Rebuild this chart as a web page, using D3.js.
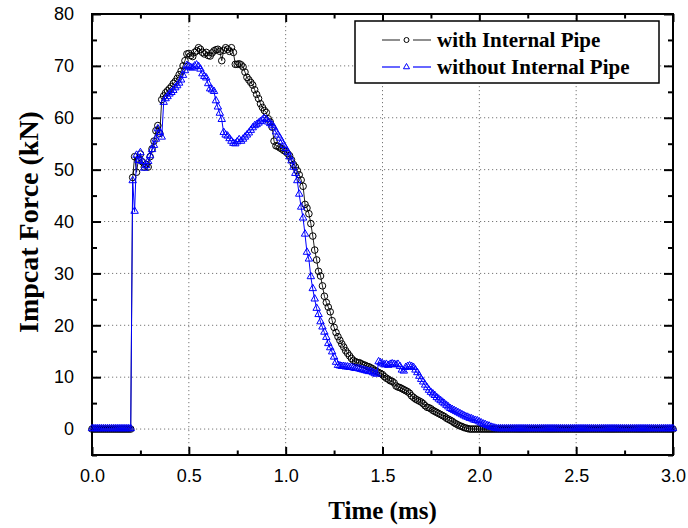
<!DOCTYPE html>
<html>
<head>
<meta charset="utf-8">
<script src="https://cdn.jsdelivr.net/npm/d3@7"></script>
<style>
  body { margin: 0; background: #fff; }
</style>
</head>
<body>
<div class="chart"></div>
<script>
// sample step of the recordings (ms)
const timeStep = 0.01;

// with internal pipe, kN, one value per 0.01 ms from 0.00 to 3.00
const withPipe = [
  0, 0, 0, 0, 0, 0, 0, 0, 0, 0,                               // 0.00
  0, 0, 0, 0, 0, 0, 0, 0, 0, 0,                               // 0.10
  0, 48.5, 52.5, 49.5, 52.0, 53.0, 51.5, 50.5, 51.0, 50.5,    // 0.20
  52.5, 54.0, 55.5, 57.5, 58.5, 57.0, 63.5, 64.2, 64.8, 65.2, // 0.30
  65.6, 66.0, 66.6, 67.0, 67.6, 68.3, 69.0, 70.0, 71.0, 72.3, // 0.40
  72.4, 72.0, 71.8, 72.6, 72.9, 73.5, 73.2, 72.6, 72.3, 72.6, // 0.50
  72.0, 71.9, 72.5, 72.9, 73.1, 73.2, 72.8, 71.0, 73.0, 73.5, // 0.60
  73.2, 72.8, 73.5, 72.6, 70.3, 70.3, 70.4, 70.2, 69.8, 68.8, // 0.70
  67.8, 67.3, 66.8, 66.3, 65.4, 64.5, 63.7, 62.7, 62.0, 61.4, // 0.80
  61.0, 59.8, 59.2, 58.2, 55.5, 54.6, 54.5, 54.2, 54.0, 53.7, // 0.90
  53.5, 53.1, 52.7, 51.9, 51.0, 50.5, 49.8, 49.0, 48.0, 46.8, // 1.00
  43.3, 42.6, 41.5, 39.6, 37.2, 34.5, 32.6, 30.4, 29.5, 27.6, // 1.10
  25.6, 24.4, 23.5, 22.6, 20.9, 19.6, 18.6, 17.8, 17.1, 16.4, // 1.20
  15.8, 15.1, 14.6, 14.1, 13.6, 13.2, 13.0, 12.8, 12.8, 12.6, // 1.30
  12.4, 12.3, 12.1, 12.0, 11.8, 11.6, 11.3, 11.1, 10.9, 10.7, // 1.40
  10.5, 10.1, 9.8, 9.6, 9.3, 9.2, 8.9, 8.3, 8.1, 8.0,         // 1.50
  7.8, 7.6, 7.4, 7.2, 6.9, 6.4, 6.1, 5.8, 5.6, 5.4,           // 1.60
  5.2, 4.9, 4.5, 4.2, 4.1, 3.9, 3.6, 3.4, 3.2, 3.0,           // 1.70
  2.8, 2.6, 2.4, 2.1, 1.9, 1.7, 1.5, 1.2, 1.0, 0.8,           // 1.80
  0.6, 0.5, 0.3, 0.2, 0.1, 0, 0, 0, 0, 0,                     // 1.90
  0, 0, 0, 0, 0, 0, 0, 0, 0, 0,                               // 2.00
  0, 0, 0, 0, 0, 0, 0, 0, 0, 0,                               // 2.10
  0, 0, 0, 0, 0, 0, 0, 0, 0, 0,                               // 2.20
  0, 0, 0, 0, 0, 0, 0, 0, 0, 0,                               // 2.30
  0, 0, 0, 0, 0, 0, 0, 0, 0, 0,                               // 2.40
  0, 0, 0, 0, 0, 0, 0, 0, 0, 0,                               // 2.50
  0, 0, 0, 0, 0, 0, 0, 0, 0, 0,                               // 2.60
  0, 0, 0, 0, 0, 0, 0, 0, 0, 0,                               // 2.70
  0, 0, 0, 0, 0, 0, 0, 0, 0, 0,                               // 2.80
  0, 0, 0, 0, 0, 0, 0, 0, 0, 0,                               // 2.90
  0                                                           // 3.00
];

// without internal pipe
const withoutPipe = [
  0, 0, 0, 0, 0, 0, 0, 0, 0, 0,                               // 0.00
  0, 0, 0, 0, 0, 0, 0, 0, 0, 0,                               // 0.10
  0, 47.8, 41.9, 52.7, 51.7, 53.2, 51.5, 50.2, 50.7, 51.5,    // 0.20
  52.6, 53.8, 54.6, 55.8, 57.8, 57.1, 56.2, 62.9, 63.6, 64.0, // 0.30
  64.5, 64.8, 65.2, 65.7, 66.1, 66.6, 67.2, 68.1, 69.0, 70.0, // 0.40
  69.8, 69.6, 69.5, 69.9, 70.1, 69.8, 69.3, 68.4, 67.9, 67.6, // 0.50
  66.5, 65.5, 65.3, 65.0, 63.2, 62.0, 60.8, 59.6, 57.1, 56.6, // 0.60
  56.4, 55.9, 55.4, 55.0, 54.9, 55.3, 55.7, 55.4, 55.8, 56.2, // 0.70
  56.6, 57.0, 57.5, 58.0, 58.4, 58.6, 58.9, 59.2, 59.5, 59.8, // 0.80
  59.6, 59.1, 58.8, 58.5, 58.0, 57.2, 56.6, 56.0, 55.3, 54.6, // 0.90
  54.0, 53.3, 52.4, 51.6, 50.4, 49.2, 47.8, 45.2, 42.7, 40.6, // 1.00
  37.5, 34.0, 32.7, 29.3, 27.0, 25.0, 23.2, 22.0, 20.6, 19.6, // 1.10
  18.6, 17.6, 16.4, 15.6, 14.8, 13.8, 12.8, 12.2, 12.1, 12.0, // 1.20
  12.0, 11.9, 11.9, 11.8, 11.8, 11.7, 11.6, 11.6, 11.5, 11.4, // 1.30
  11.3, 11.2, 11.1, 11.0, 11.0, 10.8, 10.6, 10.5, 12.9, 12.7, // 1.40
  12.5, 12.3, 12.4, 12.2, 12.4, 12.5, 12.4, 12.3, 12.4, 12.0, // 1.50
  11.3, 11.1, 11.8, 12.0, 12.1, 12.0, 11.8, 11.3, 10.8, 10.1, // 1.60
  9.5, 9.0, 8.4, 7.9, 7.4, 7.0, 6.7, 6.4, 6.0, 5.7,           // 1.70
  5.4, 5.1, 4.8, 4.5, 4.2, 3.9, 3.7, 3.5, 3.3, 3.1,           // 1.80
  2.9, 2.7, 2.5, 2.3, 2.2, 2.0, 1.9, 1.7, 1.6, 1.5,           // 1.90
  1.3, 1.1, 0.9, 0.8, 0.6, 0.5, 0.3, 0.2, 0.1, 0,             // 2.00
  0, 0, 0, 0, 0, 0, 0, 0, 0, 0,                               // 2.10
  0, 0, 0, 0, 0, 0, 0, 0, 0, 0,                               // 2.20
  0, 0, 0, 0, 0, 0, 0, 0, 0, 0,                               // 2.30
  0, 0, 0, 0, 0, 0, 0, 0, 0, 0,                               // 2.40
  0, 0, 0, 0, 0, 0, 0, 0, 0, 0,                               // 2.50
  0, 0, 0, 0, 0, 0, 0, 0, 0, 0,                               // 2.60
  0, 0, 0, 0, 0, 0, 0, 0, 0, 0,                               // 2.70
  0, 0, 0, 0, 0, 0, 0, 0, 0, 0,                               // 2.80
  0, 0, 0, 0, 0, 0, 0, 0, 0, 0,                               // 2.90
  0                                                           // 3.00
];

const xTicks = [0, 0.5, 1.0, 1.5, 2.0, 2.5, 3.0];
const xMinor = [0.25, 0.75, 1.25, 1.75, 2.25, 2.75];
const yTicks = [0, 10, 20, 30, 40, 50, 60, 70, 80];
const yMinor = [-5, 5, 15, 25, 35, 45, 55, 65, 75];
const seriesNames = ["with Internal Pipe", "without Internal Pipe"];

const W = 688, H = 528;
const padL = 92, padR = 673, padT = 14, padB = 455;

let svg = d3.select(".chart")
  .append("svg")
  .attr("width", W)
  .attr("height", H)
  .style("background-color", "white");

let x = d3.scaleLinear().domain([0, 3]).range([padL, padR]);
let y = d3.scaleLinear().domain([-5, 80]).range([padB, padT]);

// dotted grid
svg.append("g")
  .selectAll("line")
  .data(xTicks.slice(1, -1))
  .join("line")
  .attr("x1", d => x(d)).attr("x2", d => x(d))
  .attr("y1", padT).attr("y2", padB)
  .attr("stroke", "#777")
  .attr("stroke-width", 1)
  .attr("stroke-dasharray", "1.2,2.8");

svg.append("g")
  .selectAll("line")
  .data(yTicks.slice(0, -1))
  .join("line")
  .attr("x1", padL).attr("x2", padR)
  .attr("y1", d => y(d)).attr("y2", d => y(d))
  .attr("stroke", "#777")
  .attr("stroke-width", 1)
  .attr("stroke-dasharray", "1.2,2.8");

// axes with inward ticks on all four sides
let axisBottom = d3.axisBottom(x).tickValues(xTicks).tickSize(-8).tickPadding(14)
  .tickFormat(d3.format(".1f"));
let axisLeft = d3.axisLeft(y).tickValues(yTicks).tickSize(-9).tickPadding(18)
  .tickFormat(d3.format("d"));

svg.append("g").attr("transform", `translate(0,${padB})`).call(axisBottom);
svg.append("g").attr("transform", `translate(${padL},0)`).call(axisLeft);
svg.append("g").attr("transform", `translate(0,${padB})`)
  .call(d3.axisBottom(x).tickValues(xMinor).tickSize(-4.5).tickFormat(""));
svg.append("g").attr("transform", `translate(${padL},0)`)
  .call(d3.axisLeft(y).tickValues(yMinor).tickSize(-5).tickFormat(""));
svg.append("g").attr("transform", `translate(0,${padT})`)
  .call(d3.axisTop(x).tickValues(xTicks).tickSize(-8).tickFormat(""));
svg.append("g").attr("transform", `translate(0,${padT})`)
  .call(d3.axisTop(x).tickValues(xMinor).tickSize(-4.5).tickFormat(""));
svg.append("g").attr("transform", `translate(${padR},0)`)
  .call(d3.axisRight(y).tickValues(yTicks).tickSize(-9).tickFormat(""));
svg.append("g").attr("transform", `translate(${padR},0)`)
  .call(d3.axisRight(y).tickValues(yMinor).tickSize(-5).tickFormat(""));

svg.selectAll(".domain").attr("stroke", "none");
svg.selectAll(".tick line").attr("stroke", "black").attr("stroke-width", 2);
svg.selectAll(".tick text")
  .attr("font-family", "'Liberation Sans', Arial, sans-serif")
  .attr("font-size", 18)
  .attr("fill", "black");

// frame
svg.append("rect")
  .attr("x", padL).attr("y", padT)
  .attr("width", padR - padL).attr("height", padB - padT)
  .attr("fill", "none")
  .attr("stroke", "black")
  .attr("stroke-width", 2);

let line = d3.line()
  .x((d, i) => x(i * timeStep))
  .y(d => y(d));

let tri = d3.symbol().type(d3.symbolTriangle).size(24);

// with internal pipe: black circles
svg.append("path")
  .datum(withPipe)
  .attr("d", line)
  .attr("fill", "none")
  .attr("stroke", "#222")
  .attr("stroke-width", 1);

svg.append("g")
  .selectAll("circle")
  .data(withPipe)
  .join("circle")
  .attr("cx", (d, i) => x(i * timeStep))
  .attr("cy", d => y(d))
  .attr("r", 3.3)
  .attr("fill", "none")
  .attr("stroke", "black")
  .attr("stroke-width", 1);

// without internal pipe: blue triangles
svg.append("path")
  .datum(withoutPipe)
  .attr("d", line)
  .attr("fill", "none")
  .attr("stroke", "#0000ff")
  .attr("stroke-width", 1);

svg.append("g")
  .selectAll("path")
  .data(withoutPipe)
  .join("path")
  .attr("d", tri)
  .attr("transform", (d, i) => `translate(${x(i * timeStep)},${y(d) - 0.5})`)
  .attr("fill", "none")
  .attr("stroke", "#0000ff")
  .attr("stroke-width", 1);

// legend
let legend = svg.append("g");
legend.append("rect")
  .attr("x", 355).attr("y", 21)
  .attr("width", 304).attr("height", 62)
  .attr("fill", "white")
  .attr("stroke", "black")
  .attr("stroke-width", 1.5);

let colors = ["#444", "#0000ff"];
seriesNames.forEach((name, k) => {
  let ly = 40 + k * 27;
  legend.append("line").attr("x1", 382).attr("x2", 400).attr("y1", ly).attr("y2", ly)
    .attr("stroke", colors[k]).attr("stroke-width", 1.2);
  legend.append("line").attr("x1", 413).attr("x2", 431).attr("y1", ly).attr("y2", ly)
    .attr("stroke", colors[k]).attr("stroke-width", 1.2);
  if (k == 0) {
    legend.append("circle").attr("cx", 406.5).attr("cy", ly).attr("r", 2.5)
      .attr("fill", "none").attr("stroke", "black");
  } else {
    legend.append("path").attr("d", d3.symbol().type(d3.symbolTriangle).size(16))
      .attr("transform", `translate(406.5,${ly})`)
      .attr("fill", "none").attr("stroke", "#0000ff");
  }
  legend.append("text")
    .attr("x", 437).attr("y", ly + 7)
    .attr("font-family", "'Liberation Serif', 'Times New Roman', serif")
    .attr("font-weight", "bold")
    .attr("font-size", 21)
    .text(name);
});

// axis titles
svg.append("text")
  .attr("x", (padL + padR) / 2).attr("y", 519)
  .attr("text-anchor", "middle")
  .attr("font-family", "'Liberation Serif', 'Times New Roman', serif")
  .attr("font-weight", "bold")
  .attr("font-size", 25)
  .text("Time (ms)");

svg.append("text")
  .attr("transform", "translate(38,222) rotate(-90)")
  .attr("text-anchor", "middle")
  .attr("font-family", "'Liberation Serif', 'Times New Roman', serif")
  .attr("font-weight", "bold")
  .attr("font-size", 28)
  .text("Impcat Force (kN)");
</script>
</body>
</html>
